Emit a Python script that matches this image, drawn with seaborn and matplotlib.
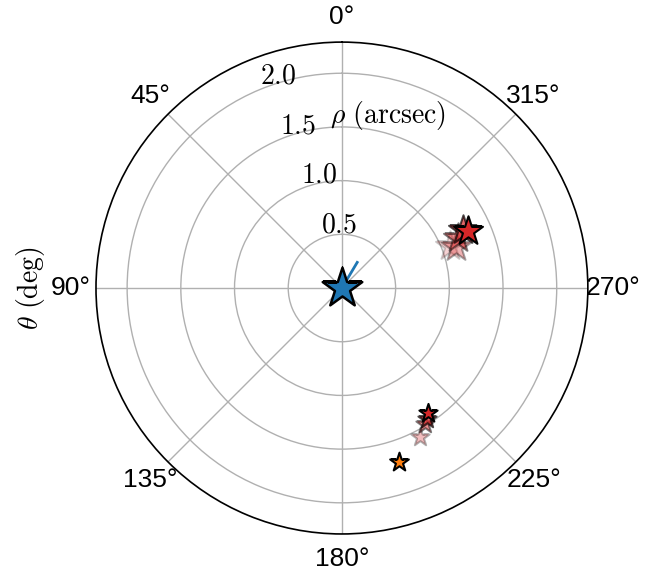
import numpy as np
import matplotlib
matplotlib.use("Agg")
import matplotlib.pyplot as plt
import seaborn as sns

plt.rcParams["mathtext.fontset"] = "cm"

# Primary star sits at the origin; short vector shows its motion direction
primary_theta = [0.0]
primary_rho = [0.0]
vector_theta = [329.2, 329.2]
vector_rho = [0.0, 0.278]

# Companion B (upper right), successive epochs
comp_b_theta = [291.3, 289.8, 293.3, 295.6, 294.3]
comp_b_rho = [1.078, 1.127, 1.175, 1.248, 1.286]

# Companion C (lower right), successive epochs
comp_c_theta = [207.6, 211.4, 213.0, 214.5]
comp_c_rho = [1.565, 1.482, 1.453, 1.411]

# Companion D, single epoch
comp_d_theta = [198.1]
comp_d_rho = [1.706]

theta_ticks = [0, 45, 90, 135, 180, 225, 270, 315]
rho_ticks = [0.5, 1.0, 1.5, 2.0]
rho_tick_labels = ["0.5", "1.0", "1.5", "2.0"]

fig = plt.figure(figsize=(6.62, 5.74), dpi=100)
ax = fig.add_axes([0.145, 0.0697, 0.743, 0.857], projection="polar")
ax.set_theta_zero_location("N")
ax.set_theta_direction(1)

# epoch fading: older epochs more transparent
b_alpha = [0.2, 0.35, 0.5, 0.7, 1.0]
c_alpha = [0.3, 0.5, 0.7, 1.0]

sns.lineplot(x=np.deg2rad(vector_theta), y=vector_rho, ax=ax, color="tab:blue",
             lw=2, estimator=None, sort=False, zorder=3)

for th, r, a in zip(comp_b_theta, comp_b_rho, b_alpha):
    sns.scatterplot(x=[np.deg2rad(th)], y=[r], ax=ax, marker="*", s=480,
                    color="tab:red", edgecolor="black", linewidth=1.5,
                    alpha=a, zorder=4)
for th, r, a in zip(comp_c_theta, comp_c_rho, c_alpha):
    sns.scatterplot(x=[np.deg2rad(th)], y=[r], ax=ax, marker="*", s=190,
                    color="tab:red", edgecolor="black", linewidth=1.5,
                    alpha=a, zorder=4)
sns.scatterplot(x=np.deg2rad(comp_d_theta), y=comp_d_rho, ax=ax, marker="*",
                s=200, color="tab:orange", edgecolor="black", linewidth=1.5,
                zorder=4)
sns.scatterplot(x=np.deg2rad(primary_theta), y=primary_rho, ax=ax, marker="*",
                s=900, color="tab:blue", edgecolor="black", linewidth=1.8,
                zorder=5)

ax.set_ylim(0, 2.29)
ax.set_yticks(rho_ticks)
ax.set_yticklabels([f"${t}$" for t in rho_tick_labels], fontsize=20)
ax.set_xticks(np.deg2rad(theta_ticks))
ax.set_xticklabels([f"{t}°" for t in theta_ticks], fontsize=19,
                   family="Liberation Sans")
ax.tick_params(axis="x", pad=7.5)
ax.grid(True, color="#b0b0b0", lw=1.0)
ax.spines["polar"].set_linewidth(1.2)

ax.set_ylabel(r"$\theta\ \mathrm{(deg)}$", fontsize=20)
ax.yaxis.set_label_coords(-0.10, 0.5)
ax.set_xlabel("")
ax.text(np.deg2rad(345.1), 1.665, r"$\rho\ \mathrm{(arcsec)}$", fontsize=20,
        ha="center", va="center")

fig.savefig("out.png", dpi=100)
